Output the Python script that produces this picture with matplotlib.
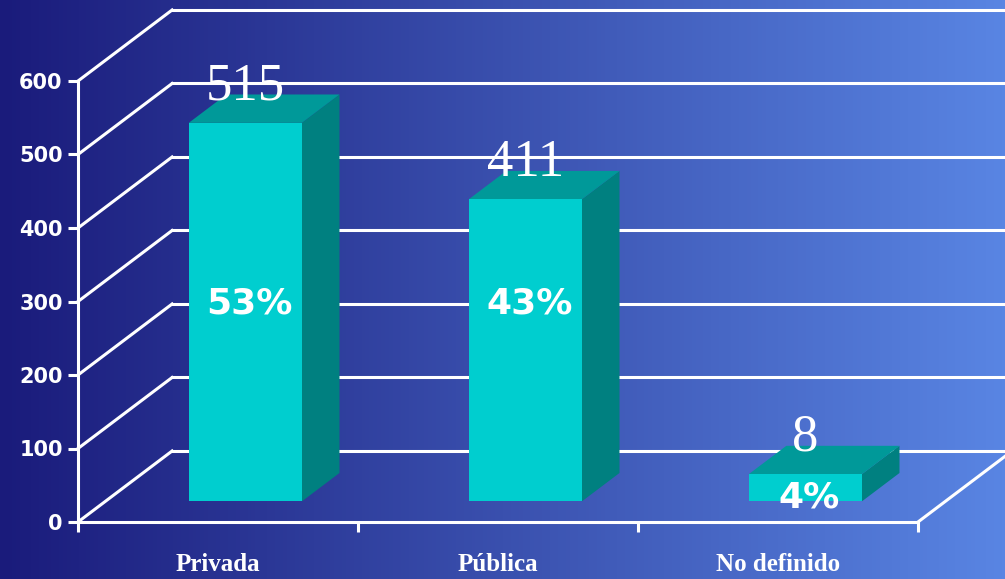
import numpy as np
import matplotlib
matplotlib.use('Agg')
import matplotlib.pyplot as plt
from matplotlib.patches import Polygon
from matplotlib.colors import LinearSegmentedColormap

# data
categories = ['Privada', 'Pública', 'No definido']
counts = [515, 411, 8]
percents = ['53%', '43%', '4%']
yticks = [0, 100, 200, 300, 400, 500, 600]

# 3d look
DX, DY = 0.336, 96.6        # full floor depth, in category / value units
F_FRONT, F_BACK = 0.29, 0.69  # bar depth position
BAR_W = 0.404
MIN_H = 37                  # smallest visible bar
LW = 2.2

fig = plt.figure(figsize=(10.05, 5.79), dpi=100)

# gradient background
bg = fig.add_axes([0, 0, 1, 1], zorder=0)
cmap = LinearSegmentedColormap.from_list('bg', ['#1a1b7b', '#3a50ae', '#5985e3'])
bg.imshow(np.linspace(0, 1, 256)[None, :], aspect='auto', cmap=cmap, extent=[0, 1, 0, 1])
bg.axis('off')

ax = fig.add_axes([78 / 1005, 57 / 579, 840 / 1005, 441 / 579], zorder=1)
ax.patch.set_alpha(0)
ax.set_xlim(0, 3)
ax.set_ylim(0, 600)

# walls
for v in yticks:
    ax.plot([0, DX], [v, v + DY], color='white', lw=LW, clip_on=False, zorder=1)
    ax.plot([DX, 3 + DX], [v + DY, v + DY], color='white', lw=LW, clip_on=False, zorder=1)
ax.plot([3, 3 + DX], [0, DY], color='white', lw=LW, clip_on=False, zorder=1)

# bars
for i, (n, pct) in enumerate(zip(counts, percents)):
    h = max(n, MIN_H)
    x0 = i + 0.5 - BAR_W / 2
    x1 = x0 + BAR_W
    fx, fy = F_FRONT * DX, F_FRONT * DY
    bx, by = F_BACK * DX, F_BACK * DY
    front = [(x0 + fx, fy), (x1 + fx, fy), (x1 + fx, h + fy), (x0 + fx, h + fy)]
    top = [(x0 + fx, h + fy), (x1 + fx, h + fy), (x1 + bx, h + by), (x0 + bx, h + by)]
    side = [(x1 + fx, fy), (x1 + bx, by), (x1 + bx, h + by), (x1 + fx, h + fy)]
    ax.add_patch(Polygon(side, closed=True, fc='#008080', ec='none', zorder=3, clip_on=False))
    ax.add_patch(Polygon(top, closed=True, fc='#009999', ec='none', zorder=3, clip_on=False))
    ax.add_patch(Polygon(front, closed=True, fc='#00cecf', ec='none', zorder=4, clip_on=False))
    cx = i + 0.5 + fx
    ax.text(cx, h + 60, str(n), ha='center', va='baseline', color='white',
            family='Liberation Serif', fontsize=38, zorder=6, clip_on=False)
    ax.text(cx + 0.015, min(300, h) - 3, pct, ha='center', va='center', color='white',
            family='DejaVu Sans', fontweight='bold', fontsize=26, zorder=6)

# axes
for s in ['top', 'right']:
    ax.spines[s].set_visible(False)
for s in ['left', 'bottom']:
    ax.spines[s].set_color('white')
    ax.spines[s].set_linewidth(LW)
    ax.spines[s].set_zorder(2)
ax.set_yticks(yticks)
ax.set_yticklabels([str(v) for v in yticks], color='white', family='DejaVu Sans',
                   fontweight='heavy', fontsize=15)
ax.set_xticks([0, 1, 2, 3])
ax.set_xticklabels([])
ax.set_xticks([0.5, 1.5, 2.5], minor=True)
ax.set_xticklabels(categories, minor=True, color='white', family='Liberation Serif',
                   fontweight='bold', fontsize=18)
ax.tick_params(axis='both', which='major', direction='out', length=7, width=LW, color='white')
ax.tick_params(axis='y', pad=4)
ax.tick_params(axis='x', which='minor', length=0, pad=22)

fig.savefig('out.png', dpi=100)
